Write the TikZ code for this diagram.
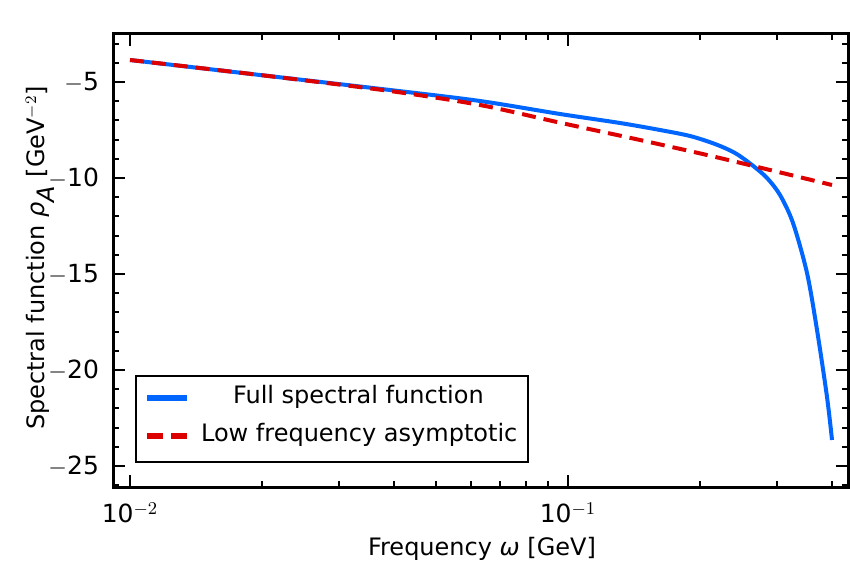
\documentclass[tikz,border=0pt]{standalone}
\usepackage{fontspec}
\setmainfont{DejaVu Sans}
\usetikzlibrary{positioning}
\definecolor{fullblue}{HTML}{0066FF}
\definecolor{asymred}{HTML}{DD0000}
\begin{document}
\begin{tikzpicture}[x=0.5pt, y=-0.5pt,
    frame/.style={line width=1.5pt},
    tick/.style={line width=1pt},
    full/.style={color=fullblue, line width=2pt},
    asym/.style={color=asymred, line width=2pt, dash pattern=on 7pt off 4pt},
    ticklabel/.style={font=\fontsize{12.5}{14}\selectfont},
    axlabel/.style={font=\fontsize{12}{14}\selectfont},
    legtext/.style={font=\fontsize{12}{14}\selectfont, anchor=west}
  ]
    \useasboundingbox (0,0) rectangle (850,561);
    % Curves
    \draw[full] plot[smooth, tension=0.5] coordinates {(130,60) (260,75) (390,90) (480,101)
      (560,114) (620,123) (660,130) (690,136) (715,144) (735,153) (752,165)
      (767,178) (780,195) (793,223) (807,273) (817,330) (827,397) (832,440)};
    \draw[asym] plot[smooth] coordinates {(130,60) (260,75) (390,91) (480,105)
      (560,122.7) (640,140) (707,155) (770,170) (832,185)};
    % Frame
    \draw[frame] (113,34) rectangle (848,487);
    % Y ticks
    \foreach \v in {-3,...,-26}{
      \pgfmathsetmacro{\yy}{82-19.2*(\v+5)}
      \draw[tick] (113,\yy) -- ++(6,0);
      \draw[tick] (848,\yy) -- ++(-6,0);
    }
    \foreach \v in {-5,-10,-15,-20,-25}{
      \pgfmathsetmacro{\yy}{82-19.2*(\v+5)}
      \draw[tick] (113,\yy) -- ++(12,0);
      \draw[tick] (848,\yy) -- ++(-12,0);
      \node[ticklabel, anchor=east] at (106,\yy) {$-$\number\numexpr-\v\relax};
    }
    % X ticks
    \foreach \k in {2,...,9}{
      \pgfmathsetmacro{\xx}{130+438*log10(\k)}
      \draw[tick] (\xx,487) -- ++(0,-6);
      \draw[tick] (\xx,34) -- ++(0,6);
    }
    \foreach \k in {2,3,4}{
      \pgfmathsetmacro{\xx}{568+438*log10(\k)}
      \draw[tick] (\xx,487) -- ++(0,-6);
      \draw[tick] (\xx,34) -- ++(0,6);
    }
    \foreach \xx in {130,568}{
      \draw[tick] (\xx,487) -- ++(0,-12);
      \draw[tick] (\xx,34) -- ++(0,12);
    }
    \node[ticklabel] at (130,513) {10$^{-2}$};
    \node[ticklabel] at (568,513) {10$^{-1}$};
    % Axis labels
    \node[axlabel] (xlab) at (482,549) {Frequency \textit{ω} [GeV]};
    \node[axlabel, rotate=90] (ylab) at (40,258) {Spectral function \textit{ρ}$_{\textit{A}}$ [GeV$^{-2}$]};
    % Legend
    \draw[line width=0.8pt] (136,376) rectangle (528,462);
    \draw[full, line width=3pt] (147,398) -- (187,398);
    \draw[asym, line width=3pt, dash pattern=on 8pt off 4pt] (147,436) -- (189,436);
    \node[legtext] (lfull) at (226,397) {Full spectral function};
    \node[legtext] (lasym) at (194,435) {Low frequency asymptotic};
\end{tikzpicture}
\end{document}
